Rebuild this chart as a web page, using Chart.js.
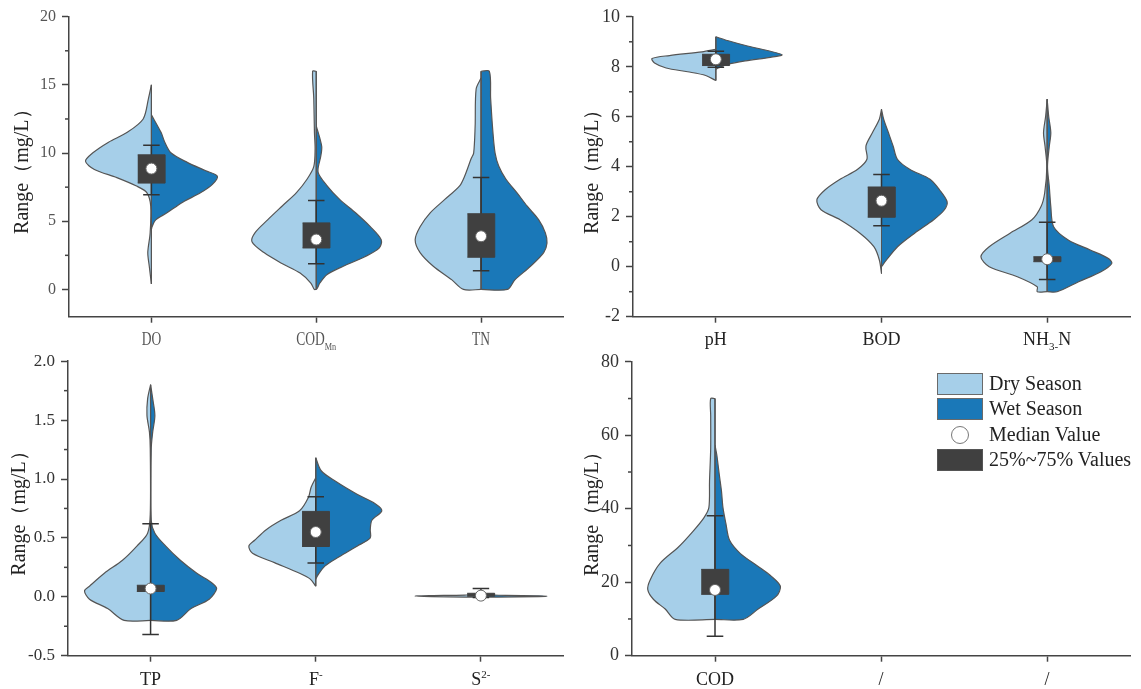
<!DOCTYPE html>
<html>
<head>
<meta charset="utf-8">
<script src="https://cdn.jsdelivr.net/npm/chart.js@4.4.1/dist/chart.umd.min.js"></script>
<style>
  body { margin: 0; background: #fff; width: 1141px; height: 689px; position: relative; overflow: hidden; }
  canvas { position: absolute; }
  .lg { position: absolute; font: 20px "Liberation Serif", serif; color: #222; line-height: 22px; }
  .sw { position: absolute; box-sizing: border-box; width: 46px; height: 22px; border: 1.5px solid #6a6a6a; }
</style>
</head>
<body>
<canvas id="tl" width="570" height="350" style="left:0;top:0"></canvas>
<canvas id="tr" width="571" height="350" style="left:570px;top:0"></canvas>
<canvas id="bl" width="570" height="344" style="left:0;top:345px"></canvas>
<canvas id="br" width="571" height="344" style="left:570px;top:345px"></canvas>

<div class="sw" style="left:937px;top:373px;background:#a6cfe9"></div>
<div class="lg" style="left:989px;top:372px">Dry Season</div>
<div class="sw" style="left:937px;top:398px;background:#1a78b8"></div>
<div class="lg" style="left:989px;top:397px">Wet Season</div>
<div style="position:absolute;left:951px;top:426px;width:18px;height:18px;box-sizing:border-box;border:1.5px solid #777;border-radius:50%;background:#fff"></div>
<div class="lg" style="left:989px;top:423px">Median Value</div>
<div class="sw" style="left:937px;top:449px;background:#404040;border-color:#555"></div>
<div class="lg" style="left:989px;top:448px">25%~75% Values</div>

<script>
const dryColor = '#a6cfe9';
const wetColor = '#1a78b8';

// violin outlines: [value, half width in category units]
const doDry = [[15, 0], [14, 0.018], [12.5, 0.05], [11.5, 0.149], [10.8, 0.26], [10, 0.357], [9.4, 0.4], [8.8, 0.346], [8.2, 0.21], [7.6, 0.094], [7.1, 0.028], [6.1, 0.004], [4.1, 0.008], [2.7, 0.022], [1.7, 0.013], [0.4, 0]];
const doWet = [[12.8, 0], [11.5, 0.059], [10.8, 0.081], [10, 0.12], [9.3, 0.22], [8.7, 0.33], [8.3, 0.4], [7.7, 0.37], [7.1, 0.3], [6.4, 0.19], [5.6, 0.092], [5.1, 0.026], [4.6, 0.004], [4.4, 0]];
const codMnDry = [[16, 0], [16, 0.022], [14, 0.015], [11.5, 0.011], [10.3, 0.007], [9, 0.015], [8.1, 0.055], [7.1, 0.12], [6.1, 0.208], [5.1, 0.295], [4.15, 0.372], [3.5, 0.39], [2.7, 0.317], [1.9, 0.208], [1.2, 0.098], [0.47, 0.033], [0, 0.012], [0, 0]];
const codMnWet = [[12, 0], [10.5, 0.033], [9.8, 0.028], [8.6, 0.011], [7.6, 0.066], [6.6, 0.142], [5.6, 0.24], [4.6, 0.328], [3.65, 0.394], [3.05, 0.383], [2.4, 0.295], [1.7, 0.164], [1.1, 0.066], [0.47, 0.022], [0.1, 0.007], [0, 0]];
const tnDry = [[15.5, 0], [14.7, 0.03], [12, 0.036], [10, 0.045], [9.6, 0.06], [8.3, 0.1], [7.6, 0.13], [6.6, 0.22], [5.6, 0.31], [4.6, 0.37], [3.65, 0.4], [2.7, 0.37], [1.7, 0.29], [0.7, 0.177], [0, 0.107], [0, 0]];
const tnWet = [[16, 0], [16, 0.05], [14, 0.058], [11.5, 0.072], [10, 0.085], [9.05, 0.107], [8.1, 0.15], [7.1, 0.217], [6.1, 0.28], [5.1, 0.35], [4.15, 0.39], [3.4, 0.4], [2.7, 0.38], [1.7, 0.3], [0.7, 0.205], [0, 0.16], [0, 0]];

const phDry = [[8.7, 0], [8.6, 0.083], [8.45, 0.28], [8.33, 0.385], [8.15, 0.37], [7.95, 0.3], [7.8, 0.17], [7.65, 0.061], [7.45, 0]];
const phWet = [[9.2, 0], [9.05, 0.07], [8.85, 0.18], [8.65, 0.31], [8.48, 0.4], [8.38, 0.33], [8.24, 0.18], [8.1, 0.07], [7.95, 0.015], [7.9, 0]];
const bodDry = [[6.3, 0], [5.9, 0.013], [5.36, 0.055], [4.83, 0.094], [4.3, 0.088], [3.9, 0.144], [3.5, 0.25], [3.08, 0.34], [2.68, 0.39], [2.28, 0.365], [1.88, 0.25], [1.34, 0.13], [0.8, 0.046], [0.27, 0.013], [-0.27, 0]];
const bodWet = [[6.3, 0], [5.9, 0.013], [5.36, 0.042], [4.83, 0.07], [4.3, 0.096], [3.9, 0.17], [3.5, 0.293], [3.08, 0.35], [2.6, 0.396], [2.28, 0.38], [1.88, 0.315], [1.34, 0.2], [0.8, 0.097], [0.27, 0.03], [0, 0]];
const nh3Dry = [[6.7, 0], [6.03, 0.009], [5.36, 0.022], [4.83, 0.013], [4, 0.002], [2.95, 0.015], [2.41, 0.037], [1.88, 0.092], [1.34, 0.224], [0.8, 0.35], [0.4, 0.4], [0, 0.35], [-0.4, 0.18], [-0.8, 0.06], [-1, 0.06], [-1, 0]];
const nh3Wet = [[6.7, 0], [6.03, 0.009], [5.36, 0.022], [4.83, 0.013], [4, 0.002], [3.2, 0.013], [2.41, 0.022], [1.6, 0.039], [1.07, 0.127], [0.67, 0.26], [0.33, 0.37], [0.13, 0.39], [-0.2, 0.325], [-0.6, 0.19], [-1, 0.06], [-1, 0]];

const tpDry = [[1.8, 0], [1.68, 0.018], [1.54, 0.022], [1.4, 0.007], [1.26, 0.002], [0.7, 0.002], [0.54, 0.018], [0.43, 0.083], [0.31, 0.17], [0.2, 0.28], [0.09, 0.37], [0.05, 0.4], [-0.02, 0.37], [-0.1, 0.26], [-0.2, 0.16], [-0.2, 0]];
const tpWet = [[1.8, 0], [1.68, 0.013], [1.54, 0.026], [1.4, 0.013], [1.26, 0.004], [0.65, 0.004], [0.54, 0.026], [0.43, 0.092], [0.31, 0.18], [0.2, 0.28], [0.12, 0.37], [0.07, 0.4], [-0.02, 0.355], [-0.1, 0.245], [-0.2, 0.158], [-0.2, 0]];
const fDry = [[1.01, 0], [0.93, 0.028], [0.845, 0.044], [0.73, 0.098], [0.65, 0.21], [0.57, 0.3], [0.48, 0.37], [0.43, 0.405], [0.37, 0.383], [0.29, 0.25], [0.2, 0.098], [0.15, 0.033], [0.09, 0]];
const fWet = [[1.18, 0], [1.07, 0.033], [0.98, 0.12], [0.87, 0.25], [0.79, 0.36], [0.73, 0.4], [0.65, 0.34], [0.57, 0.33], [0.5, 0.33], [0.43, 0.25], [0.34, 0.142], [0.26, 0.055], [0.18, 0.011], [0.15, 0]];
const sDry = [[0.025, 0], [0.015, 0.1], [0.01, 0.3], [0.006, 0.4], [0.002, 0.3], [-0.002, 0.1], [-0.005, 0]];
const sWet = [[0.02, 0], [0.012, 0.15], [0.008, 0.35], [0.005, 0.4], [0.002, 0.35], [-0.002, 0.1], [-0.004, 0]];

const codDry = [[70, 0], [70, 0.026], [65.3, 0.026], [56.4, 0.026], [47.5, 0.033], [40.3, 0.037], [37.6, 0.066], [34, 0.13], [29.6, 0.22], [25.2, 0.33], [20.7, 0.39], [18, 0.405], [15.3, 0.37], [12.7, 0.3], [9.9, 0.24], [9.9, 0]];
const codWet = [[57.3, 0], [54.6, 0.011], [49.2, 0.026], [44.8, 0.039], [40.3, 0.048], [35.9, 0.066], [31.4, 0.088], [27.8, 0.153], [24.3, 0.26], [21.6, 0.34], [18.9, 0.394], [16.2, 0.37], [12.7, 0.26], [9.9, 0.17], [9.9, 0]];

// categories and box statistics
const tlCategories = ['DO', 'COD_{Mn}', 'TN'];
const tlMedian = [8.86, 3.66, 3.9];
const tlQ1 = [7.8, 3.04, 2.36];
const tlQ3 = [9.87, 4.88, 5.55];
const tlLow = [6.95, 1.89, 1.37];
const tlHigh = [10.58, 6.53, 8.2];
const tlYTicks = [0, 5, 10, 15, 20];
const tlYMinor = [2.5, 7.5, 12.5, 17.5];

const trCategories = ['pH', 'BOD', 'NH_{3-}N'];
const trMedian = [8.3, 2.64, 0.3];
const trQ1 = [8.05, 1.98, 0.2];
const trQ3 = [8.5, 3.19, 0.4];
const trLow = [7.98, 1.64, -0.51];
const trHigh = [8.62, 3.69, 1.78];
const trYTicks = [-2, 0, 2, 4, 6, 8, 10];
const trYMinor = [-1, 1, 3, 5, 7, 9];

const blCategories = ['TP', 'F^{-}', 'S^{2-}'];
const blMedian = [0.07, 0.55, 0.01];
const blQ1 = [0.045, 0.427, 0.005];
const blQ3 = [0.098, 0.725, 0.03];
const blLow = [-0.32, 0.287, -0.005];
const blHigh = [0.62, 0.85, 0.07];
const blYTicks = [-0.5, 0, 0.5, 1, 1.5, 2];
const blYMinor = [-0.25, 0.25, 0.75, 1.25, 1.75];

const brCategories = ['COD', '/', '/'];
const brMedian = [17.9];
const brQ1 = [16.7];
const brQ3 = [23.5];
const brLow = [5.3];
const brHigh = [38.1];
const brYTicks = [0, 20, 40, 60, 80];
const brYMinor = [10, 30, 50, 70];

const panels = [
  { id: 'tl', cats: tlCategories, dry: [doDry, codMnDry, tnDry], wet: [doWet, codMnWet, tnWet],
    med: tlMedian, q1: tlQ1, q3: tlQ3, low: tlLow, high: tlHigh,
    yMin: -2, yMax: 20, yTicks: tlYTicks, yMinor: tlYMinor, dec: 0,
    pad: { left: 69, top: 16.7, right: 2, xh: 33.3, labelDy: 22, titleTop: 11 },
    tick: { size: 16, color: '#555' }, label: { size: 18, sx: 0.75, color: '#555' } },
  { id: 'tr', cats: trCategories, dry: [phDry, bodDry, nh3Dry], wet: [phWet, bodWet, nh3Wet],
    med: trMedian, q1: trQ1, q3: trQ3, low: trLow, high: trHigh,
    yMin: -2, yMax: 10, yTicks: trYTicks, yMinor: trYMinor, dec: 0,
    pad: { left: 63, top: 16.7, right: 11, xh: 33.3, labelDy: 22, titleTop: 11 },
    tick: { size: 18, color: '#333' }, label: { size: 18, sx: 1, color: '#222' } },
  { id: 'bl', cats: blCategories, dry: [tpDry, fDry, sDry], wet: [tpWet, fWet, sWet],
    med: blMedian, q1: blQ1, q3: blQ3, low: blLow, high: blHigh,
    yMin: -0.5, yMax: 2, yTicks: blYTicks, yMinor: blYMinor, dec: 1,
    pad: { left: 68, top: 11.7, right: 4, xh: 33.3, labelDy: 23, titleTop: 8 },
    tick: { size: 17, color: '#333' }, label: { size: 18, sx: 1, color: '#222' } },
  { id: 'br', cats: brCategories, dry: [codDry], wet: [codWet],
    med: brMedian, q1: brQ1, q3: brQ3, low: brLow, high: brHigh,
    yMin: 0, yMax: 80, yTicks: brYTicks, yMinor: brYMinor, dec: 0,
    pad: { left: 62, top: 11.7, right: 11, xh: 33.3, labelDy: 23, titleTop: 11 },
    tick: { size: 18, color: '#333' }, label: { size: 18, sx: 1, color: '#222' } }
];

function drawLabel(ctx, text, cx, cy, st) {
  const parts = [];
  text.replace(/_\{([^}]*)\}|\^\{([^}]*)\}|([^_^]+)/g, (m, sub, sup, n) => {
    parts.push(sub !== undefined ? [sub, 'sub'] : sup !== undefined ? [sup, 'sup'] : [n, 'n']);
    return m;
  });
  const fontFor = k => (k === 'n' ? st.size : Math.round(st.size * 0.62)) + 'px "Liberation Serif"';
  let total = 0;
  parts.forEach(p => { ctx.font = fontFor(p[1]); p.w = ctx.measureText(p[0]).width; total += p.w; });
  ctx.save();
  ctx.translate(cx, cy);
  ctx.scale(st.sx, 1);
  ctx.fillStyle = st.color;
  ctx.textAlign = 'left';
  ctx.textBaseline = 'alphabetic';
  let px = -total / 2;
  const base = st.size * 0.33;
  parts.forEach(p => {
    ctx.font = fontFor(p[1]);
    const dy = p[1] === 'sub' ? st.size * 0.3 : p[1] === 'sup' ? -st.size * 0.38 : 0;
    ctx.fillText(p[0], px, base + dy);
    px += p.w;
  });
  ctx.restore();
}

const extras = {
  id: 'extras',
  afterDraw(chart, args, opts) {
    const { ctx, chartArea } = chart;
    const x = chart.scales.x, y = chart.scales.y;
    ctx.save();
    ctx.strokeStyle = '#444';
    ctx.lineWidth = 1.5;
    opts.minor.forEach(v => {
      const py = y.getPixelForValue(v);
      ctx.beginPath();
      ctx.moveTo(y.right - 4, py);
      ctx.lineTo(y.right, py);
      ctx.stroke();
    });
    opts.cats.forEach((c, i) => drawLabel(ctx, c, x.getPixelForValue(i + 0.5), chartArea.bottom + opts.labelDy, opts.style));
    ctx.restore();
  }
};

function halfViolin(profile, c, side, color) {
  return {
    type: 'line',
    data: profile.map(p => ({ x: c + side * p[1], y: p[0] })),
    fill: 'shape', backgroundColor: color, borderColor: '#555', borderWidth: 1.2,
    pointRadius: 0, tension: 0.3, order: 4
  };
}

panels.forEach(p => {
  const datasets = [];
  p.dry.forEach((dry, i) => {
    const c = i + 0.5;
    const wet = p.wet[i];
    datasets.push(halfViolin(dry, c, -1, dryColor));
    datasets.push(halfViolin(wet, c, 1, wetColor));
    const vals = dry.concat(wet).map(d => d[0]);
    datasets.push({
      type: 'line', data: [{ x: c, y: Math.max(...vals) }, { x: c, y: Math.min(...vals) }],
      borderColor: '#555', borderWidth: 1, pointRadius: 0, fill: false, order: 3
    });
    const cw = 0.05;
    datasets.push({
      type: 'line',
      data: [{ x: c - cw, y: p.high[i] }, { x: c + cw, y: p.high[i] }, { x: c, y: null },
             { x: c, y: p.high[i] }, { x: c, y: p.low[i] }, { x: c, y: null },
             { x: c - cw, y: p.low[i] }, { x: c + cw, y: p.low[i] }],
      borderColor: '#333', borderWidth: 1.5, pointRadius: 0, fill: false, tension: 0, order: 2
    });
    const bw = 0.083;
    datasets.push({
      type: 'line',
      data: [{ x: c - bw, y: p.q1[i] }, { x: c + bw, y: p.q1[i] }, { x: c + bw, y: p.q3[i] }, { x: c - bw, y: p.q3[i] }],
      fill: 'shape', backgroundColor: '#404040', borderColor: '#404040', borderWidth: 1,
      pointRadius: 0, tension: 0, order: 1
    });
    datasets.push({
      type: 'scatter', data: [{ x: c, y: p.med[i] }],
      pointRadius: 5.5, pointBackgroundColor: '#fff', pointBorderColor: '#666', pointBorderWidth: 1, order: 0
    });
  });

  new Chart(document.getElementById(p.id), {
    type: 'line',
    data: { datasets },
    plugins: [extras],
    options: {
      responsive: false,
      animation: false,
      devicePixelRatio: 1,
      layout: { padding: { left: 0, top: p.pad.top, right: p.pad.right, bottom: 0 } },
      plugins: {
        legend: { display: false },
        tooltip: { enabled: false },
        extras: { minor: p.yMinor, cats: p.cats, labelDy: p.pad.labelDy, style: p.label }
      },
      scales: {
        x: {
          type: 'linear', min: 0, max: 3,
          afterBuildTicks: s => { s.ticks = p.cats.map((c, i) => ({ value: i + 0.5 })); },
          afterFit: s => { s.height = p.pad.xh; },
          ticks: { display: false },
          grid: { drawOnChartArea: false, tickLength: 6, tickColor: '#444', tickWidth: 1.5 },
          border: { display: true, color: '#444', width: 1.5 }
        },
        y: {
          type: 'linear', min: p.yMin, max: p.yMax,
          afterBuildTicks: s => { s.ticks = p.yTicks.map(v => ({ value: v })); },
          afterFit: s => { s.width = p.pad.left; },
          ticks: {
            font: { family: 'Liberation Serif', size: p.tick.size }, color: p.tick.color, padding: 6,
            callback: v => v.toFixed(p.dec)
          },
          grid: { drawOnChartArea: false, tickLength: 7, tickColor: '#444', tickWidth: 1.5 },
          border: { display: true, color: '#444', width: 1.5 },
          title: {
            display: true, text: 'Range（mg/L）', color: '#222',
            font: { family: 'Liberation Serif', size: 20 }, padding: { top: p.pad.titleTop, bottom: 0 }
          }
        }
      }
    }
  });
});
</script>
</body>
</html>
